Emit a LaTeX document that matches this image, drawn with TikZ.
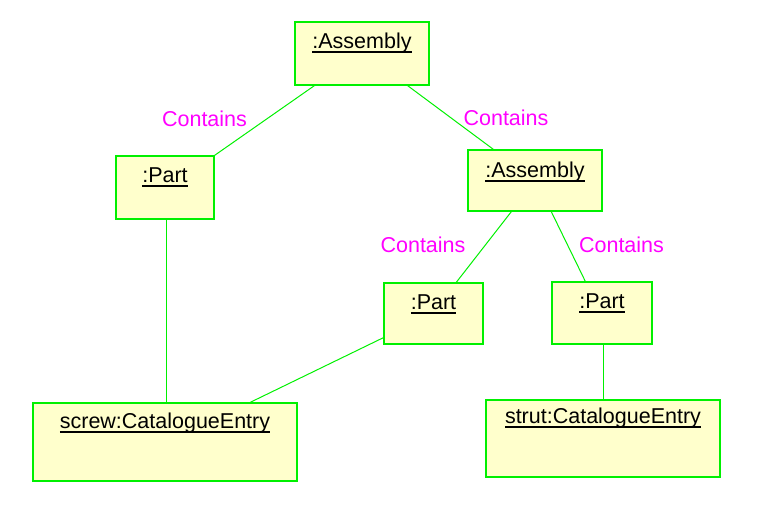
\documentclass[tikz,border=0pt]{standalone}
\usepackage{fontspec}
\setmainfont{Liberation Sans}
\definecolor{objline}{HTML}{00F000}
\definecolor{objfill}{HTML}{FFFFCC}
\definecolor{rolename}{HTML}{FF00FF}
% underlined object name: rule sits a little below the baseline
\newcommand\objname[1]{\setbox0\hbox{#1}\rlap{\vrule width\wd0 height -2.6pt depth 4.4pt}\box0}
\tikzset{
  objbox/.style={draw=objline, line width=1.4pt, fill=objfill, inner sep=0pt},
  objtext/.style={anchor=base, inner sep=0pt, font=\fontsize{21.5}{25}\selectfont},
  link/.style={draw=objline, line width=1pt},
  role/.style={anchor=base, inner sep=0pt, text=rolename, font=\fontsize{21.5}{25}\selectfont}
}
\begin{document}
\begin{tikzpicture}[x=1pt, y=-1pt]
  \useasboundingbox (0,0) rectangle (757,507);

  % object boxes
  \node[objbox, minimum width=134pt, minimum height=63pt] (a1) at (362,53.5) {};
  \node[objbox, minimum width=98pt,  minimum height=63pt] (p1) at (165,187.5) {};
  \node[objbox, minimum width=134pt, minimum height=61pt] (a2) at (535,180.5) {};
  \node[objbox, minimum width=99pt,  minimum height=61pt] (p2) at (433.5,313.5) {};
  \node[objbox, minimum width=100pt, minimum height=62pt] (p3) at (602,313) {};
  \node[objbox, minimum width=264pt, minimum height=78pt] (c1) at (165,442) {};
  \node[objbox, minimum width=234pt, minimum height=77pt] (c2) at (603,438.5) {};

  % object names
  \node[objtext] (a1t) at ([yshift=-27pt]a1.north) {\objname{:Assembly}};
  \node[objtext] (p1t) at ([yshift=-27pt]p1.north) {\objname{:Part}};
  \node[objtext] (a2t) at ([yshift=-28pt]a2.north) {\objname{:Assembly}};
  \node[objtext] (p2t) at ([yshift=-27pt]p2.north) {\objname{:Part}};
  \node[objtext] (p3t) at ([yshift=-27pt]p3.north) {\objname{:Part}};
  \node[objtext] (c1t) at ([yshift=-26.5pt]c1.north) {\objname{screw:CatalogueEntry}};
  \node[objtext] (c2t) at ([yshift=-24pt]c2.north) {\objname{strut:CatalogueEntry}};

  % links
  \draw[link] ([xshift=20pt]a1.south west) -- (p1.north east);
  \draw[link] ([xshift=-22pt]a1.south east) -- ([xshift=26pt]a2.north west);
  \draw[link] ([xshift=44pt]a2.south west) -- ([xshift=73pt]p2.north west);
  \draw[link] ([xshift=84pt]a2.south west) -- ([xshift=34pt]p3.north west);
  \draw[link] ([xshift=1.5pt]p1.south) -- ([xshift=1.5pt]p1.south |- c1.north);
  \draw[link] ([yshift=7pt]p2.south west) -- ([xshift=218pt]c1.north west);
  \draw[link] ([xshift=1.5pt]p3.south) -- ([xshift=1.5pt]p3.south |- c2.north);

  % role names
  \node[role] (r1) at (204.5,126) {Contains};
  \node[role] (r2) at (506,125) {Contains};
  \node[role] (r3) at (423,252) {Contains};
  \node[role] (r4) at (621.5,252) {Contains};
\end{tikzpicture}
\end{document}
